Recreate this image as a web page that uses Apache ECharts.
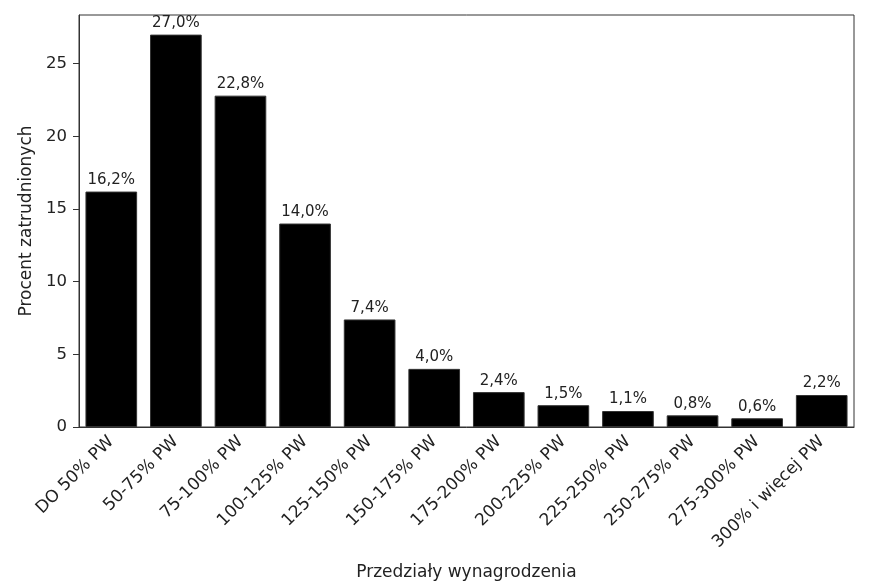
<!DOCTYPE html>
<html><head><meta charset="utf-8">
<script src="https://cdn.jsdelivr.net/npm/echarts@6/dist/echarts.min.js"></script>
<style>html,body{margin:0;padding:0;background:#fff}#c{width:892px;height:586px}</style>
</head><body><div id="c"></div>
<script>
const categories = ["DO 50% PW","50-75% PW","75-100% PW","100-125% PW","125-150% PW","150-175% PW","175-200% PW","200-225% PW","225-250% PW","250-275% PW","275-300% PW","300% i więcej PW"];
const values = [16.2,27.0,22.8,14.0,7.4,4.0,2.4,1.5,1.1,0.8,0.6,2.2];
const yTicks = [0,5,10,15,20,25];
const F = 'DejaVu Sans';
const chart = echarts.init(document.getElementById('c'), null, {renderer:'canvas'});
chart.setOption({
  animation:false,
  backgroundColor:'#fff',
  grid:{left:79,right:38,top:15,bottom:159,outerBoundsMode:'none',containLabel:false,show:true,borderColor:'#333',borderWidth:1,backgroundColor:'transparent'},
  xAxis:{type:'category',data:categories,boundaryGap:true,
    name:'Przedziały wynagrodzenia',nameLocation:'middle',nameGap:137,
    nameTextStyle:{fontFamily:F,fontSize:17,color:'#222'},
    axisLine:{lineStyle:{color:'#333',width:1}},
    axisTick:{alignWithLabel:true,length:6,lineStyle:{color:'#333'}},
    axisLabel:{rotate:45,interval:0,fontFamily:F,fontSize:17,color:'#222',margin:12}},
  yAxis:{type:'value',min:0,max:28.35,interval:5,
    name:'Procent zatrudnionych',nameLocation:'middle',nameGap:37,nameRotate:90,
    nameTextStyle:{fontFamily:F,fontSize:17,color:'#222'},
    splitLine:{show:false},
    axisLine:{show:true,lineStyle:{color:'#333',width:1}},
    axisTick:{show:true,length:6,lineStyle:{color:'#333'},customValues:yTicks},
    axisLabel:{fontFamily:F,fontSize:16.5,color:'#222',margin:12,customValues:yTicks}},
  series:[{type:'bar',data:values,barCategoryGap:'20%',
    itemStyle:{color:'#000',borderColor:'#333',borderWidth:1},
    label:{show:true,position:'top',distance:4,fontFamily:F,fontSize:15,color:'#222',
      formatter:p=>p.value.toFixed(1).replace('.',',')+'%'}}]
});
</script></body></html>
